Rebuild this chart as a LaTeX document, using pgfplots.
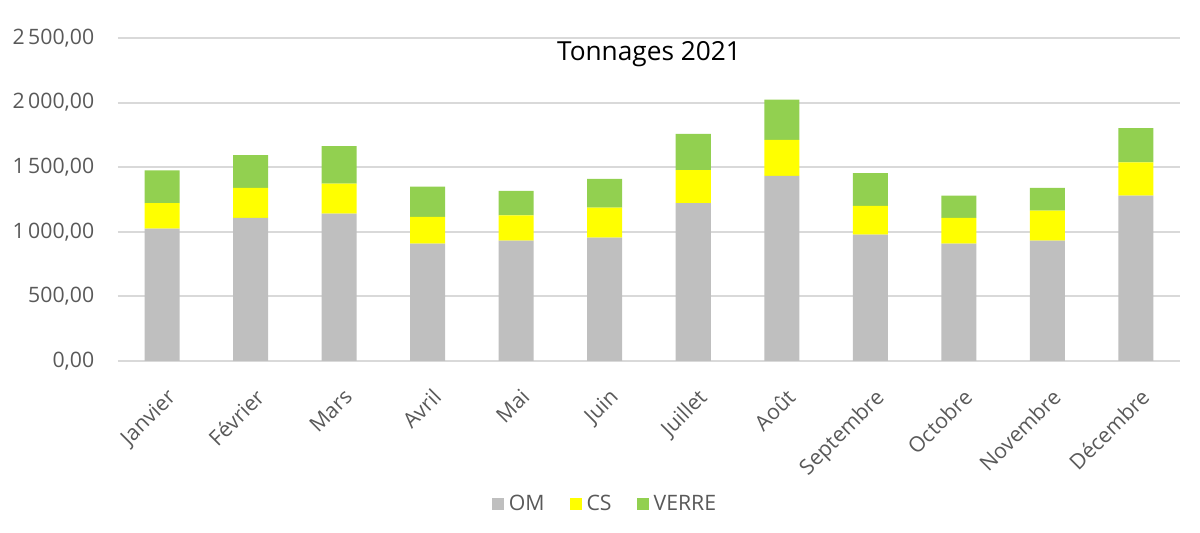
\documentclass[border=0pt]{standalone}
\usepackage{fontspec}
\setmainfont{Open Sans}
\usepackage{pgfplots}
\pgfplotsset{compat=1.18}
\definecolor{omgray}{HTML}{BFBFBF}
\definecolor{csyellow}{HTML}{FFFF00}
\definecolor{verregreen}{HTML}{92D050}
\definecolor{gridgray}{HTML}{D9D9D9}
\definecolor{labelgray}{HTML}{595959}

\begin{document}
\begin{tikzpicture}
\useasboundingbox (-47.2pt,-68.8pt) rectangle (432.8pt,144.4pt);
\begin{axis}[
  at={(0,0)},anchor=south west,
  scale only axis,width=424.8pt,height=129.2pt,
  ybar stacked,bar width=14pt,
  xmin=-0.5,xmax=11.5,ymin=0,ymax=2500,
  xtick={0,...,11},
  xticklabels={Janvier,Février,Mars,Avril,Mai,Juin,Juillet,Août,Septembre,Octobre,Novembre,Décembre},
  ytick={0,500,...,2500},
  ymajorgrids,grid style={gridgray,line width=0.8pt},
  axis line style={draw=none},
  major tick length=0pt,
  tick label style={font=\fontsize{8.5}{10}\selectfont,text=labelgray},
  x tick label style={rotate=45,anchor=north east,xshift=-3pt,yshift=-5pt},
  yticklabel style={anchor=east,xshift=-6pt},
  /pgf/number format/.cd,fixed,fixed zerofill,precision=2,use comma,1000 sep={\,},assume math mode=true,
  /pgfplots/.cd,
  title={Tonnages 2021},
  title style={font=\fontsize{10.5}{12}\selectfont,at={(0.5,1)},anchor=north,yshift=-4pt},
  legend style={draw=none,at={(0.46,0)},anchor=center,yshift=-57.4pt,
    legend columns=-1,font=\fontsize{8.5}{10}\selectfont,text=labelgray,
    /tikz/every even column/.append style={column sep=8pt}},
  legend image code/.code={\fill[#1] (0pt,-2.4pt) rectangle (4.8pt,2.4pt);},
]
\addplot[fill=omgray,draw=none] coordinates {(0,1025)(1,1107)(2,1141)(3,909)(4,932)(5,955)(6,1221)(7,1432)(8,978)(9,909)(10,932)(11,1280)};
\addplot[fill=csyellow,draw=none] coordinates {(0,196)(1,232)(2,232)(3,206)(4,196)(5,232)(6,257)(7,279)(8,222)(9,198)(10,232)(11,258)};
\addplot[fill=verregreen,draw=none] coordinates {(0,255)(1,255)(2,291)(3,235)(4,188)(5,222)(6,279)(7,312)(8,255)(9,173)(10,175)(11,265)};
\legend{OM,CS,VERRE}
\end{axis}
\end{tikzpicture}
\end{document}
